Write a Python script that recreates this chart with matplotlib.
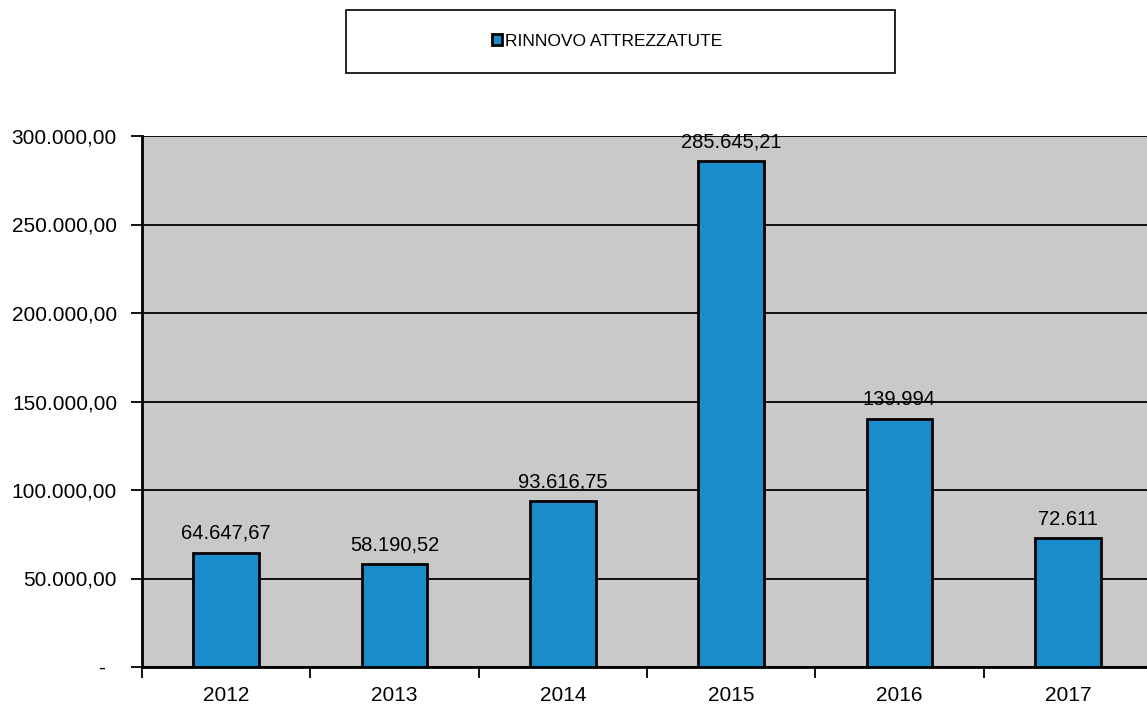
import matplotlib
matplotlib.use("Agg")
import matplotlib.pyplot as plt
from matplotlib.patches import Rectangle
from matplotlib.ticker import FuncFormatter, MultipleLocator

# Data
years = ["2012", "2013", "2014", "2015", "2016", "2017"]
values = [64647.67, 58190.52, 93616.75, 285645.21, 139994, 72611]
value_labels = ["64.647,67", "58.190,52", "93.616,75", "285.645,21", "139.994", "72.611"]
series_name = "RINNOVO ATTREZZATUTE"

BAR_COLOR = "#1a8ccc"
PLOT_BG = "#c9c9c9"

plt.rcParams["font.family"] = ["Liberation Sans", "DejaVu Sans"]


def it_format(v, pos):
    # Italian number style, zero shown as a dash (accounting style)
    if v == 0:
        return "-  "
    s = f"{v:,.2f}"
    return s.replace(",", "X").replace(".", ",").replace("X", ".")


fig = plt.figure(figsize=(11.47, 7.06), dpi=100)
ax = fig.add_axes([142 / 1147, 1 - 667 / 706, 1010 / 1147, 531 / 706])
ax.set_facecolor(PLOT_BG)

x = list(range(len(years)))
bars = ax.bar(x, values, width=0.39, color=BAR_COLOR, edgecolor="black",
              linewidth=2, zorder=3, label=series_name)

for b, lab in zip(bars, value_labels):
    ax.annotate(lab, (b.get_x() + b.get_width() / 2, b.get_height()),
                xytext=(0, 7), textcoords="offset points", ha="center",
                va="bottom", fontsize=14.5, zorder=4)

ax.set_xlim(-0.5, len(years) - 0.5)
ax.set_ylim(0, 300000)
ax.yaxis.set_major_locator(MultipleLocator(50000))
ax.yaxis.set_major_formatter(FuncFormatter(it_format))
ax.grid(axis="y", color="black", linewidth=1.3, zorder=1)
ax.set_axisbelow(True)

ax.set_xticks(x)
ax.set_xticklabels(years)
ax.set_xticks([i - 0.5 for i in range(len(years) + 1)], minor=True)
ax.tick_params(axis="x", which="major", length=0, pad=14, labelsize=15)
ax.tick_params(axis="x", which="minor", length=8, width=1.3)
ax.tick_params(axis="y", length=8, width=1.3, labelsize=15, pad=10)

for side in ["top", "right"]:
    ax.spines[side].set_visible(False)
for side in ["left", "bottom"]:
    ax.spines[side].set_linewidth(2)

# Legend box at the top
fig.patches.append(Rectangle((346 / 1147, 1 - 73 / 706), 549 / 1147, 63 / 706,
                             transform=fig.transFigure, fill=False,
                             edgecolor="black", linewidth=1.2))
fig.legend(handles=[bars], labels=[series_name], loc="center",
           bbox_to_anchor=(607 / 1147, 1 - 41 / 706), frameon=False,
           fontsize=12.5, handlelength=0.6, handleheight=0.6, handletextpad=0.15)

fig.savefig("out.png", dpi=100)
